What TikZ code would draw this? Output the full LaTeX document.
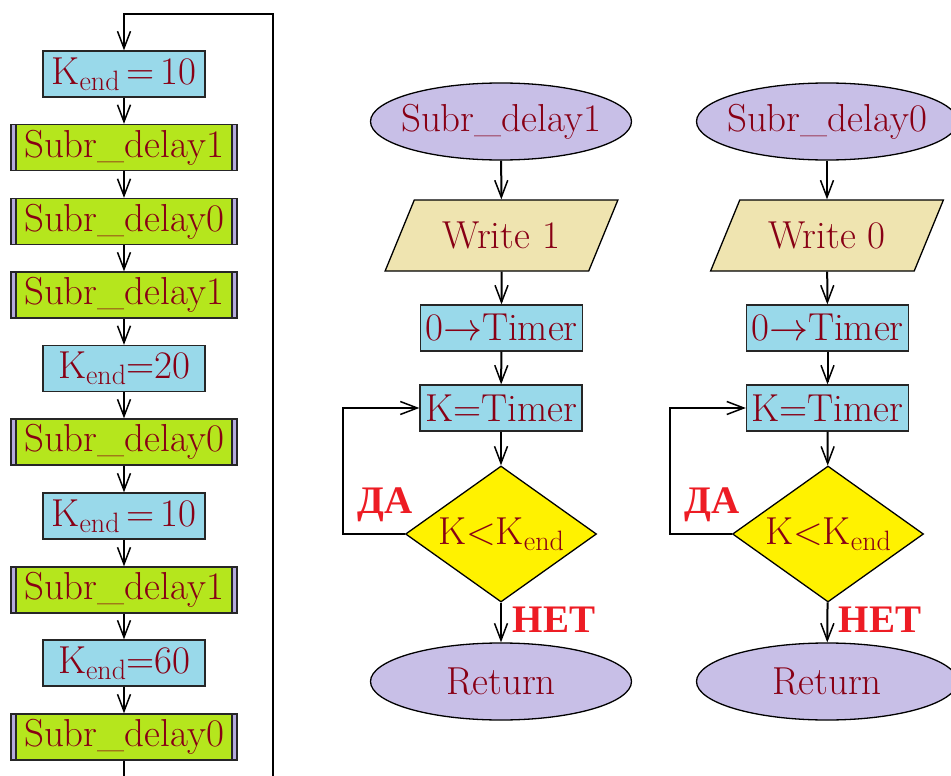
\documentclass[tikz,border=0pt]{standalone}
\usepackage{fontspec}
\usepackage{fix-cm}
\newfontfamily\cyrfont{Liberation Serif}
\usetikzlibrary{arrows.meta,shapes.geometric}
\definecolor{txt}{HTML}{880015}
\definecolor{pblue}{HTML}{99D9EA}
\definecolor{pgreen}{HTML}{B5E61D}
\definecolor{lav}{HTML}{C8BFE7}
\definecolor{stripe}{HTML}{B4ABDC}
\definecolor{sand}{HTML}{EFE4B0}
\definecolor{pyellow}{HTML}{FFF200}
\definecolor{pred}{HTML}{ED1C24}
\newcommand\kend{K\raisebox{-6pt}{\fontsize{28}{28}\selectfont end}}
\begin{document}
\begin{tikzpicture}[x=1pt,y=-1pt,
  every node/.style={font=\fontsize{39}{44}\selectfont, text=txt},
  box/.style={draw=black!85, line width=1.3pt, fill=pblue, minimum width=162, minimum height=46, inner sep=0pt},
  subbox/.style={draw=black!85, line width=1.3pt, fill=pgreen, minimum width=226, minimum height=46, inner sep=0pt,
    path picture={
      \fill[stripe] (path picture bounding box.south west) rectangle ([xshift=5pt]path picture bounding box.north west);
      \fill[stripe] (path picture bounding box.south east) rectangle ([xshift=-5pt]path picture bounding box.north east);
      \draw[black!85, line width=1.3pt] ([xshift=5pt]path picture bounding box.south west) -- ([xshift=5pt]path picture bounding box.north west);
      \draw[black!85, line width=1.3pt] ([xshift=-5pt]path picture bounding box.south east) -- ([xshift=-5pt]path picture bounding box.north east);
    }},
  term/.style={ellipse, draw=black, line width=1.3pt, fill=lav, minimum width=261, minimum height=77, inner xsep=-14pt, inner ysep=0pt},
  io/.style={trapezium, trapezium left angle=54.3, trapezium right angle=125.7, trapezium stretches=true,
    draw=black, line width=1.3pt, fill=sand, minimum width=233, minimum height=71, inner sep=0pt},
  decide/.style={diamond, aspect=1.4, draw=black, line width=1.3pt, fill=pyellow, minimum width=191, minimum height=136, inner sep=0pt},
  lbl/.style={font=\cyrfont\bfseries\fontsize{39}{44}\selectfont, text=pred},
  arr/.style={line width=2pt, -{Straight Barb[length=17pt,width=13pt,line width=1.5pt]}},
  plain/.style={line width=2pt}
  ]
\useasboundingbox (0,0) rectangle (951,776);

% left column
\node[box] (k1) at (124,74) {\kend\,=\,10};
\node[subbox] (s1) at (124,147.5) {Subr\_delay1};
\node[subbox] (s2) at (124,221.5) {Subr\_delay0};
\node[subbox] (s3) at (124,295) {Subr\_delay1};
\node[box] (k2) at (124,368.5) {\kend=20};
\node[subbox] (s4) at (124,442) {Subr\_delay0};
\node[box] (k3) at (124,516) {\kend\,=\,10};
\node[subbox] (s5) at (124,590) {Subr\_delay1};
\node[box] (k4) at (124,663) {\kend=60};
\node[subbox] (s6) at (124,737) {Subr\_delay0};
\coordinate (bl) at (124,776);
\coordinate (br) at (273,776);
\coordinate (tr) at (273,14);

\draw[arr] (k1) -- (s1);
\draw[arr] (s1) -- (s2);
\draw[arr] (s2) -- (s3);
\draw[arr] (s3) -- (k2);
\draw[arr] (k2) -- (s4);
\draw[arr] (s4) -- (k3);
\draw[arr] (k3) -- (s5);
\draw[arr] (s5) -- (k4);
\draw[arr] (k4) -- (s6);
\draw[plain] (s6) -- (bl);
\draw[arr] (br) -- (tr) -| (k1.north);

% middle column
\node[term] (e1) at (501,121.5) {Subr\_delay1};
\node[io] (w1) at (501.5,235.5) {Write 1};
\node[box] (t1) at (501.5,328) {0$\rightarrow$Timer};
\node[box] (kt1) at (501,408) {K=Timer};
\node[decide] (d1) at (501,534) {K<\kend};
\node[term] (r1) at (501,681.5) {Return};
\node[lbl] (da1) at (385,505) {ДА};
\node[lbl] (net1) at (554,620) {НЕТ};
\draw[arr] (e1) -- (w1);
\draw[arr] (w1) -- (t1);
\draw[arr] (t1) -- (kt1);
\draw[arr] (kt1) -- (d1);
\draw[arr] (d1) -- (r1);
\draw[arr] (d1.west) -- ++(-62,0) |- (kt1.west);

% right column
\node[term] (e2) at (827,121.5) {Subr\_delay0};
\node[io] (w2) at (827,235.5) {Write 0};
\node[box] (t2) at (827.5,328) {0$\rightarrow$Timer};
\node[box] (kt2) at (827.5,408) {K=Timer};
\node[decide] (d2) at (828,534) {K<\kend};
\node[term] (r2) at (827,681.5) {Return};
\node[lbl] (da2) at (712,505) {ДА};
\node[lbl] (net2) at (880,620) {НЕТ};
\draw[arr] (e2) -- (w2);
\draw[arr] (w2) -- (t2);
\draw[arr] (t2) -- (kt2);
\draw[arr] (kt2) -- (d2);
\draw[arr] (d2) -- (r2);
\draw[arr] (d2.west) -- ++(-62,0) |- (kt2.west);
\end{tikzpicture}
\end{document}
